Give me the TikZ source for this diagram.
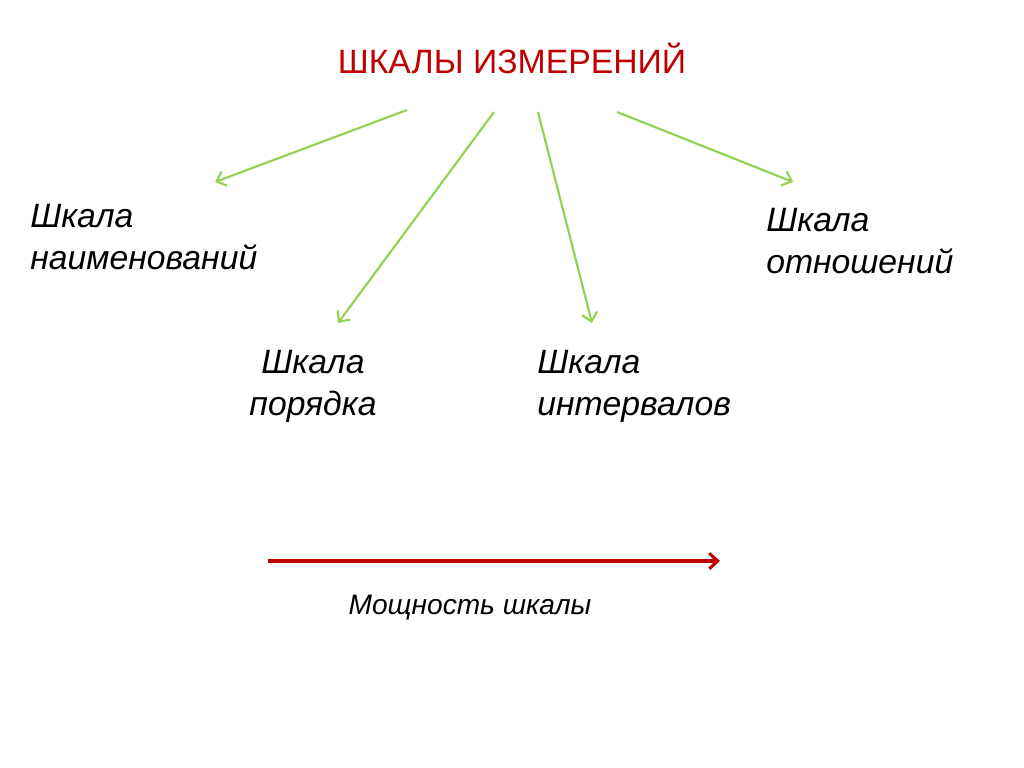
\documentclass[tikz,border=0pt]{standalone}
\usepackage{fontspec}
\setmainfont{Liberation Sans}
\usetikzlibrary{positioning,arrows.meta}
\definecolor{scalegreen}{RGB}{146,208,80}
\definecolor{scalered}{RGB}{192,0,0}
\tikzset{
  scalelabel/.style={align=left,inner sep=0pt,font=\itshape\fontsize{24}{30}\selectfont},
  titlelabel/.style={inner sep=0pt,text=scalered,font=\fontsize{24}{28}\selectfont},
  powerlabel/.style={inner sep=0pt,font=\itshape\fontsize{20}{24}\selectfont},
  greenline/.style={color=scalegreen,line width=1.5pt,>={Straight Barb[length=6pt,width=11pt]}},
  redline/.style={draw=scalered,line width=2.2pt,>={Straight Barb[length=6pt,width=11pt]}}
}
\begin{document}
\begin{tikzpicture}
    \useasboundingbox (0,0) rectangle (25.6,-19.2);
    \node at (12.8, -1.45) [titlelabel] (title) {ШКАЛЫ ИЗМЕРЕНИЙ};
    \node at (0.75, -5.1) [scalelabel, anchor=north west] (names) {Шкала\\наименований};
    \node at (7.825, -8.75) [scalelabel, align=center, anchor=north] (order) {Шкала\\порядка};
    \node at (13.425, -8.75) [scalelabel, anchor=north west] (interval) {Шкала\\интервалов};
    \node at (19.15, -5.2) [scalelabel, anchor=north west] (ratio) {Шкала\\отношений};
    \node at (11.75, -15.2) [powerlabel] (power) {Мощность шкалы};
    \coordinate (n0) at (10.175, -2.75);
    \coordinate (n1) at (5.375, -4.55);
    \coordinate (o0) at (12.35, -2.8);
    \coordinate (o1) at (8.45, -8.075);
    \coordinate (i0) at (13.45, -2.8);
    \coordinate (i1) at (14.8, -8.075);
    \coordinate (r0) at (15.425, -2.8);
    \coordinate (r1) at (19.825, -4.55);
    \coordinate (p0) at (6.7, -14.025);
    \coordinate (p1) at (18.0, -14.025);
    \path[greenline]
    (n0) edge[->] (n1)
    (o0) edge[->] (o1)
    (i0) edge[->] (i1)
    (r0) edge[->] (r1);
    \draw[redline, ->] (p0) -- (p1);
\end{tikzpicture}
\end{document}
